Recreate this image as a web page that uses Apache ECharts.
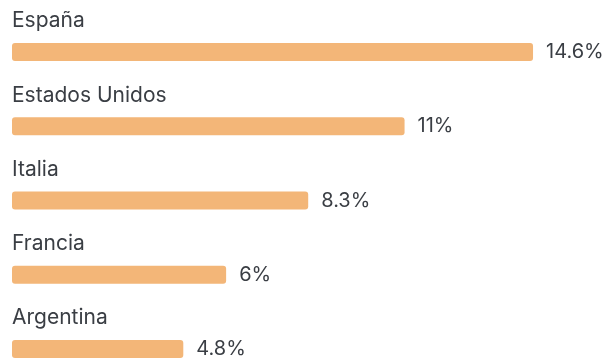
<!DOCTYPE html>
<html><head><meta charset="utf-8">
<script src="https://cdn.jsdelivr.net/npm/echarts@6/dist/echarts.min.js"></script>
<style>html,body{margin:0;padding:0;background:#fff}#c{width:610px;height:360px}</style>
</head><body><div id="c"></div>
<script>
var categories = ['España', 'Estados Unidos', 'Italia', 'Francia', 'Argentina'];
var values = [14.6, 11, 8.3, 6, 4.8];
var chart = echarts.init(document.getElementById('c'), null, {renderer: 'canvas'});
var font = 'Inter, Roboto, "Noto Sans", sans-serif';
chart.setOption({
  animation: false,
  grid: {left: 12, right: 27, top: 52, bottom: 11},
  xAxis: {type: 'value', min: 0, max: 16, show: false},
  yAxis: {type: 'category', data: categories, inverse: true, boundaryGap: false, show: false},
  series: [
    {
      type: 'bar', data: values, barWidth: 18, barGap: '-100%', z: 1,
      itemStyle: {color: 'rgba(0,0,0,0)'},
      label: {show: true, position: [0, -22], verticalAlign: 'middle', align: 'left',
        formatter: function (p) { return p.name; },
        color: '#3a3e44', fontSize: 21, fontFamily: font},
      silent: true
    },
    {
      type: 'bar', data: values, barWidth: 18, z: 2,
      itemStyle: {color: '#F3B678', borderRadius: 3},
      label: {show: true, position: 'right', distance: 13,
        formatter: function (p) { return p.value + '%'; },
        color: '#3a3e44', fontSize: 20, fontFamily: font}
    }
  ]
});
</script></body></html>
